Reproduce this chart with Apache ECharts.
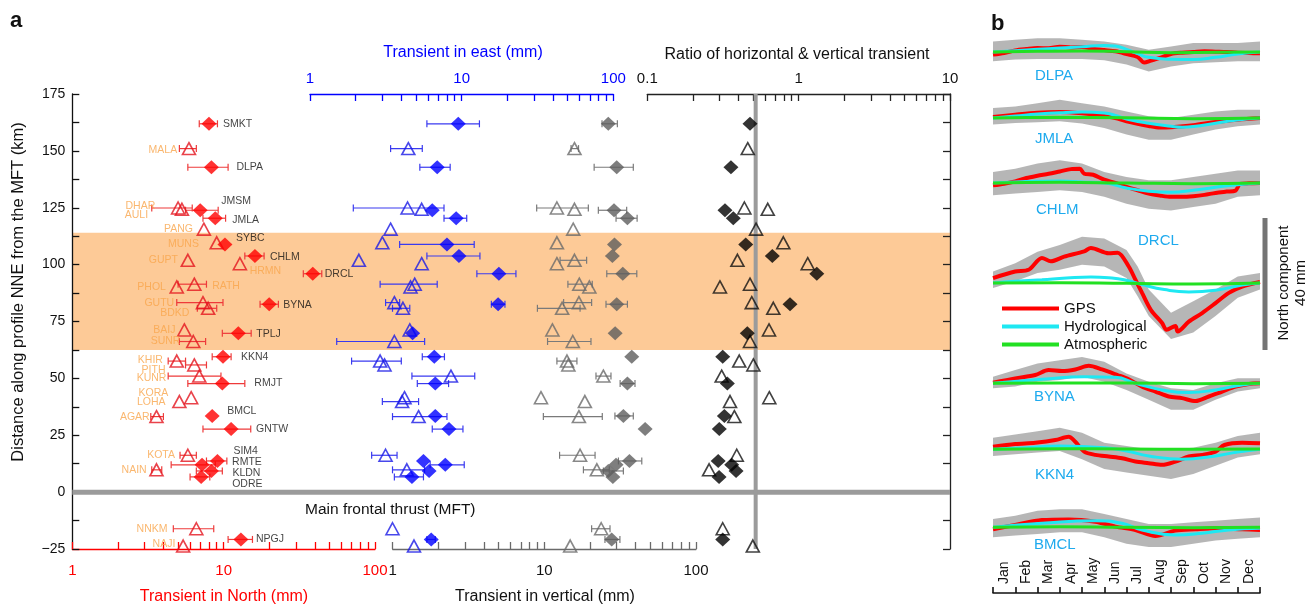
<!DOCTYPE html>
<html><head><meta charset="utf-8">
<script src="https://cdn.jsdelivr.net/npm/echarts@6/dist/echarts.min.js"></script>
<style>html,body{margin:0;padding:0;background:#fff}#c{width:1308px;height:609px}</style>
</head><body><div id="c"></div>
<script>
// ---------------- DATA : panel a ----------------
const stations = ['SMKT','MALA','DLPA','DHAR','AULI','JMSM','JMLA','PANG','MUNS','SYBC','CHLM','GUPT','HRMN','DRCL','RATH','PHOL','GUTU','BYNA','BDKD','BAIJ','TPLJ','SUNR','KKN4','KHIR','PITH','KUNR','RMJT','KORA','LOHA','BMCL','AGAR','GNTW','KOTA','SIM4','RMTE','NAIN','KLDN','ODRE','NNKM','NPGJ','NAJI'];
const markerKind = ['D','T','D','T','T','D','D','T','T','D','D','T','T','D','T','T','T','D','T','T','D','T','D','T','T','T','D','T','T','D','T','D','T','D','D','T','D','D','T','D','T'];
const distanceKm = [161.9,151.0,142.8,124.9,124.3,123.9,120.4,115.6,109.6,108.9,103.8,101.9,100.4,96.0,91.4,90.2,83.3,82.6,80.8,71.3,69.8,66.2,59.5,57.6,55.9,51.0,47.7,41.5,39.8,33.5,33.2,27.7,16.2,13.7,12.0,9.8,9.3,6.7,-16.1,-20.8,-23.7];
const northMm = [8.0,5.9,8.3,5.0,5.3,7.0,8.8,7.4,9.0,10.2,16.1,5.8,12.8,38.8,6.4,4.9,7.3,20.0,7.9,5.5,12.5,6.3,9.9,4.9,6.4,6.9,9.8,6.1,5.1,8.4,3.6,11.2,5.8,9.1,7.2,3.6,8.3,7.1,6.6,13.0,5.4];
const northLo = [6.9,5.1,5.8,3.35,null,5.6,7.3,null,null,null,13.8,null,null,33.6,5.0,null,4.9,17.4,6.7,null,9.8,5.1,8.4,4.3,5.6,4.3,5.8,null,null,null,3.3,7.3,5.15,7.7,4.5,3.35,6.6,6.0,4.65,10.7,null];
const northHi = [9.1,6.6,10.7,6.2,null,9.2,10.3,null,null,null,18.5,null,null,44.5,7.7,null,9.9,23.0,9.0,null,15.2,7.6,11.2,5.6,7.7,9.6,13.8,null,null,null,4.0,15.1,6.6,10.5,8.8,3.9,9.8,8.1,8.6,15.5,null];
const eastMm = [9.5,4.45,6.9,4.4,5.45,6.4,9.2,3.4,3.0,8.0,9.6,2.1,5.45,17.6,4.9,4.6,3.6,17.4,4.1,4.55,4.75,3.6,6.6,2.9,3.1,8.5,6.7,4.2,4.05,6.7,5.2,8.25,3.15,5.6,7.8,4.35,6.1,4.7,3.5,6.3,4.85];
const eastLo = [5.9,3.4,5.3,1.93,null,null,7.65,null,null,3.9,5.9,null,null,12.6,2.9,null,3.15,15.7,3.5,null,null,1.5,5.5,1.88,null,4.7,5.1,null,3.0,null,3.5,6.4,2.55,null,6.2,3.5,null,3.6,null,5.9,null];
const eastHi = [13.1,5.5,8.4,7.65,null,null,10.8,null,null,12.1,13.2,null,null,22.8,6.9,null,3.9,19.3,4.55,null,null,5.7,7.7,4.0,null,12.2,8.2,null,5.2,null,8.0,10.2,3.75,null,10.4,5.7,null,5.6,null,6.7,null];
const vertMm = [26.4,15.8,30.0,12.1,15.8,28.8,35.3,15.5,12.1,29.0,28.1,15.8,12.1,32.9,17.0,19.8,16.9,30.0,13.1,11.3,29.3,15.4,37.7,14.1,14.4,24.5,35.3,9.5,18.5,33.2,16.9,46.2,17.2,36.4,29.7,22.2,26.4,28.3,23.7,27.8,14.8];
const vertLo = [24.0,15.0,21.3,8.9,null,22.7,29.7,null,null,null,null,12.7,null,25.8,14.3,null,13.4,25.5,9.0,null,null,10.5,null,12.1,null,21.9,31.6,null,null,29.2,9.85,null,12.6,30.8,null,18.1,24.5,null,20.5,25.1,null];
const vertHi = [30.3,16.8,38.6,19.5,null,34.9,40.9,null,null,null,null,19.0,null,40.7,20.7,null,20.5,35.3,17.2,null,null,20.3,null,16.4,null,27.5,39.6,null,null,38.6,24.1,null,21.6,43.9,null,26.8,33.2,null,27.1,31.5,null];
const ratioHV = [0.477,0.461,0.357,0.438,0.625,0.326,0.370,0.523,0.792,0.447,0.670,0.394,1.148,1.318,0.477,0.302,0.490,0.877,0.680,0.637,0.458,0.477,0.315,0.405,0.502,0.310,0.338,0.640,0.352,0.323,0.376,0.299,0.390,0.294,0.361,0.256,0.386,0.298,0.315,0.315,0.498];
const bandKm = [62.5, 114];      // shaded zone
const mftKm = 0;                 // Main frontal thrust
const ratioRef = 0.52;           // reference ratio line
const kmTickLabels = [-25,0,25,50,75,100,125,150,175];

// ---------------- DATA : panel b (mm, time in months) ----------------
const months = ['Jan','Feb','Mar','Apr','May','Jun','Jul','Aug','Sep','Oct','Nov','Dec'];
const seriesNames = ['GPS','Hydrological','Atmospheric'];
const bStations = ['DLPA','JMLA','CHLM','DRCL','BYNA','KKN4','BMCL'];
const gpsDLPA = [[0,-0.8],[0.5,-0.3],[1,0.5],[1.5,0.9],[2,1.2],[2.5,1.1],[3,1.6],[3.5,1.4],[4,1.5],[4.5,1.0],[5,0.6],[5.5,0.2],[6,-0.6],[6.5,-1.5],[6.8,-3.2],[7.1,-2.6],[7.5,-1.8],[8,-0.6],[8.5,-0.2],[9,0.0],[9.5,0.2],[10,0.1],[10.5,0.0],[11,-0.2],[11.5,-0.3],[12,-0.4]];
const hydDLPA = [[0,0],[1,0.4],[2,0.8],[3,1.2],[4,1.6],[5,2.0],[5.5,1.8],[6,0.8],[6.5,-0.5],[7,-1.6],[8,-2.2],[9,-2.3],[10,-1.6],[11,-0.6],[12,0]];
const atmDLPA = [[0,0],[2,0.2],[4,0.3],[6,0.1],[8,-0.2],[10,-0.1],[12,0]];
const dotsDLPA = [[0,-2.8,3.2],[1,-2.3,3.7],[2,-2.1,4.2],[3,-2.1,4.2],[4,-2.1,3.7],[5,-2.5,3.2],[6,-3.8,2.2],[7,-5.9,0.7],[8,-4.4,1.7],[9,-3.4,2.7],[10,-3.1,2.7],[11,-2.8,2.7],[12,-2.8,3.2]];
const gpsJMLA = [[0,0.3],[1,1.0],[2,1.6],[3,1.8],[4,1.4],[5,0.6],[5.5,0],[6,-1.0],[7,-2.4],[7.5,-2.9],[8,-2.8],[9,-2.2],[10,-1.2],[11,-0.5],[12,0]];
const hydJMLA = [[0,0],[1,0.6],[2,1.2],[3,1.6],[4,1.8],[5,1.5],[5.5,0.8],[6,-0.3],[7,-1.6],[8,-2.5],[8.5,-2.8],[9,-2.6],[10,-1.6],[11,-0.6],[12,0]];
const atmJMLA = [[0,0],[3,0.2],[6,0.1],[9,-0.2],[12,0]];
const dotsJMLA = [[0,-2,3],[1,-1.5,3.5],[2,-1.3,4.5],[3,-1,5.5],[4,-1.7,4.5],[5,-3,3.5],[6,-5,2],[7,-6.6,0.5],[8,-6.6,0],[9,-5,1],[10,-3.5,2],[11,-2.5,2.5],[12,-2,2.5]];
const gpsCHLM = [[0,-0.7],[0.5,-0.2],[1,0.5],[1.5,1.5],[2,2.2],[2.5,2.8],[3,3.5],[3.5,4.2],[3.9,4.3],[4.1,2.8],[4.5,2.5],[5,1.0],[5.5,0],[6,-1.2],[6.5,-2.2],[7,-3.2],[7.5,-3.8],[8,-4.2],[8.5,-4.2],[9,-4.0],[9.5,-3.6],[10,-3.0],[10.5,-2.6],[10.9,-2.3],[11.1,-0.3],[11.5,-0.1],[12,0]];
const hydCHLM = [[0,0],[1,0.3],[2,0.5],[3,0.6],[4,0.3],[5,0],[6,-1.5],[7,-2.5],[8,-2.8],[9,-2.2],[10,-1.3],[11,-0.5],[12,0]];
const atmCHLM = [[0,0],[3,0.2],[6,0],[9,-0.2],[12,0]];
const dotsCHLM = [[0,-3.7,3.3],[1,-3.2,4.3],[2,-2.7,5.9],[3,-2.2,6.9],[4,-2.7,5.9],[5,-4.2,3.3],[6,-6.3,1.8],[7,-7.8,0.8],[8,-8.3,0.8],[9,-7.3,1.8],[10,-6.3,2.8],[11,-4.2,3.8],[12,-3.7,3.8]];
const gpsDRCL = [[0,1.5],[1,3.5],[1.6,4.0],[2.2,7.6],[2.6,6.6],[3.2,8.0],[4.1,9.6],[4.4,10.6],[5.2,9.0],[5.6,9.2],[6.1,5.0],[6.4,1.0],[6.7,-3.0],[7.1,-8.2],[7.6,-12.1],[7.8,-14.2],[8.2,-13.0],[8.3,-14.7],[8.8,-11.7],[9.4,-9.1],[10,-6.1],[10.6,-3.0],[11.2,-1.1],[12,0.3]];
const hydDRCL = [[0,0],[1,0.5],[2.2,1.0],[3.3,1.5],[4.4,1.8],[5.2,1.6],[5.9,1.0],[6.7,-0.5],[7.7,-2.0],[8.8,-2.7],[10,-2.2],[11.2,-0.6],[12,0]];
const atmDRCL = [[0,0],[3,0.1],[6,-0.1],[9,-0.3],[12,0]];
const dotsDRCL = [[0,-1.5,3.5],[1,0.5,6],[2,3,9.5],[3,4,11.5],[4,5.5,14],[5,5,13.5],[6,1.5,10],[6.5,-4,5],[7,-10,-2],[8,-17,-9],[9,-15,-5.5],[10,-10,-2],[11,-4.5,2],[12,-2,3]];
const gpsBYNA = [[0,0.2],[1,1.5],[1.9,2.5],[2.5,4.0],[3.1,3.7],[3.7,4.2],[4.3,5.3],[4.9,4.2],[5.6,2.5],[6.1,1.2],[6.7,-1.0],[7.3,-2.5],[7.9,-4.0],[8.5,-4.5],[9.1,-5.4],[9.7,-4.0],[10.3,-2.5],[10.9,-1.0],[11.5,-0.2],[12,0]];
const hydBYNA = [[0,0],[2.2,1.2],[4.1,2.0],[5.5,1.8],[6.4,0],[7.6,-2.0],[8.8,-2.8],[10,-2.0],[11.2,-0.5],[12,0]];
const atmBYNA = [[0,0],[3,0.1],[6,0.1],[9,-0.1],[12,0]];
const dotsBYNA = [[0,-1.5,2],[1,-1,4],[2,0.5,6],[3,1,7],[4,2,8],[5,0.5,6.5],[6,-2,3],[7,-5,0.5],[8,-8,-1.5],[9,-8,-2],[10,-5,0],[11,-2.5,1.5],[12,-1.5,1.5]];
const gpsKKN4 = [[0,0.8],[1,1.6],[1.9,2.0],[2.8,2.8],[3.4,3.8],[3.7,2.3],[4.1,-0.7],[4.6,-1.7],[5.2,-2.2],[5.8,-2.7],[6.4,-3.7],[7,-4.2],[7.6,-4.7],[8.2,-3.7],[8.8,-2.2],[9.4,-1.7],[10,-0.7],[10.4,1.3],[11.2,2.0],[12,1.8]];
const hydKKN4 = [[0,0],[1.5,0.5],[3,1.0],[5,0.5],[6,-0.5],[7,-2.0],[8.5,-3.0],[10,-2.0],[11,-0.8],[12,0]];
const atmKKN4 = [[0,0],[3,0.2],[6,0.1],[9,0],[12,0.1]];
const dotsKKN4 = [[0,-2,3.5],[1,-1.5,4.5],[2,-1,5.5],[3,-0.5,6.5],[4,-3,5],[5,-6,2],[6,-7,1],[7,-8,0],[8,-9,0],[9,-7.5,0.5],[10,-5,2],[11,-2.5,4],[12,-1.5,5]];
const gpsBMCL = [[0,-0.6],[1,0.7],[2.2,2.2],[3.4,2.4],[4.6,1.7],[5.5,0.2],[6.4,-0.8],[7.3,-2.6],[8.2,-1.0],[9.1,-0.6],[10,-0.3],[11.2,-0.6],[12,-0.8]];
const hydBMCL = [[0,0],[2.2,1.2],[4.6,2.0],[5.8,1.2],[6.7,-0.8],[8.2,-2.3],[9.4,-1.8],[10.6,-0.8],[12,-0.3]];
const atmBMCL = [[0,0],[3,0.2],[6,0],[9,-0.1],[12,0]];
const dotsBMCL = [[0,-3,2.5],[1,-2.5,3.5],[2,-2,5],[3,-1.5,5.5],[4,-1.5,5.5],[5,-3,4],[6,-5,2.5],[7,-6,1],[8,-6,1],[9,-5,1.5],[10,-4,2],[11,-3.5,2.5],[12,-3,3]];
const scaleBarMm = [40];

// ---------------- STYLE / LAYOUT ----------------
const FONT = '"Liberation Sans", Arial, Helvetica, sans-serif';
const RED = '#ff0000', BLUE = '#0000ff', GRAY = '#5e5e5e', ORANGE = '#f9a54b', CYANTXT = '#1eaaee';
const PA_TOP = 94, PA_H = 455;
// label placement: side, distance from marker centre (px), vertical shift (px)
const labelPlace = {SMKT:['r',14,0],DLPA:['r',25,0],JMSM:['r',21,-9],JMLA:['r',17,2],SYBC:['r',11,-6],CHLM:['r',15,1],DRCL:['r',12,0],BYNA:['r',14,1],TPLJ:['r',18,1],KKN4:['r',18,0],RMJT:['r',32,0],BMCL:['r',15,-5],GNTW:['r',25,0],SIM4:['r',16,-10],RMTE:['r',30,-3],KLDN:['r',21,2],ODRE:['r',31,7],NPGJ:['r',15,0],
  MALA:['l',11,2],DHAR:['l',22,-2],AULI:['l',33,6],PANG:['l',10,0],MUNS:['l',17,1],GUPT:['l',9,0],HRMN:['r',9,7],PHOL:['l',10,0],RATH:['r',17,2],GUTU:['l',28,0],BDKD:['l',18,5],BAIJ:['l',8,0],SUNR:['l',12,0],KHIR:['l',13,-1],PITH:['l',28,5],KUNR:['l',32,2],KORA:['l',22,-5],LOHA:['l',13,1],AGAR:['l',6,1],KOTA:['l',12,0],NAIN:['l',9,0],NNKM:['l',28,0],NAJI:['l',7,-2]};
const bRowY = [52,118,183,283,383.3,449.3,527.3];
const bLabelPos = [[1035,76],[1035,139],[1036,210],[1138,241],[1034,397],[1035,475],[1034,545]];
const MM_PX = 3.3, B_RANGE = 18;

function logTicks(a, b){ const o=[]; for(let d=a; d<b*0.999; d*=10){ for(let k=1;k<10;k++) o.push(+(d*k).toPrecision(3)); } o.push(b); return o; }

const grids = [], xAxes = [], yAxes = [], series = [];
function addGrid(g){ grids.push(Object.assign({outerBoundsMode:'none', containLabel:false}, g)); return grids.length-1; }

// panel a grids
const gBg = addGrid({left:72.3, top:PA_TOP, width:877.7, height:PA_H});
const gN = addGrid({left:72.3, top:PA_TOP, width:302.7, height:PA_H});
const gE = addGrid({left:310, top:PA_TOP, width:303.3, height:PA_H});
const gV = addGrid({left:392.7, top:PA_TOP, width:303.3, height:PA_H});
const gR = addGrid({left:647.3, top:PA_TOP, width:302.7, height:PA_H});

function logAxis(gi, min, max, pos, lineColor, labelColor, labelVals){
  return {gridIndex:gi, type:'log', logBase:10, min, max, position:pos,
    axisLine:{show:true, onZero:false, lineStyle:{color:lineColor, width:1.3}},
    axisTick:{show:true, inside:true, length:7, lineStyle:{color:lineColor, width:1.3}, customValues:logTicks(min,max)},
    minorTick:{show:false}, splitLine:{show:false},
    axisLabel:{show:true, color:labelColor, fontFamily:FONT, fontSize:15, margin: pos==='top'?8:14, customValues:labelVals,
      formatter: v => String(+v.toPrecision(3))}};
}
xAxes.push({gridIndex:gBg, type:'value', min:0, max:1, show:false});
xAxes.push(logAxis(gN, 1, 100, 'bottom', RED, RED, [1,10,100]));
xAxes.push(logAxis(gE, 1, 100, 'top', BLUE, BLUE, [1,10,100]));
xAxes.push(logAxis(gV, 1, 100, 'bottom', '#6a6a6a', '#111', [1,10,100]));
xAxes.push(logAxis(gR, 0.1, 10, 'top', '#222', '#111', [0.1,1,10]));

const kmAxisBase = {type:'value', min:-25, max:175, interval:12.5, splitLine:{show:false}};
yAxes.push(Object.assign({gridIndex:gBg, show:false}, kmAxisBase));
yAxes.push(Object.assign({gridIndex:gN, position:'left',
  axisLine:{show:true, onZero:false, lineStyle:{color:'#111', width:1.3}},
  axisTick:{show:true, inside:true, length:7, lineStyle:{color:'#111', width:1.3}},
  axisLabel:{show:true, color:'#111', fontFamily:FONT, fontSize:14, margin:7,
    formatter: v => kmTickLabels.indexOf(v) >= 0 ? (v < 0 ? '\u2212' + (-v) : String(v)) : ''}}, kmAxisBase));
yAxes.push(Object.assign({gridIndex:gE, show:false}, kmAxisBase));
yAxes.push(Object.assign({gridIndex:gV, show:false}, kmAxisBase));
yAxes.push(Object.assign({gridIndex:gR, position:'right',
  axisLine:{show:true, onZero:false, lineStyle:{color:'#222', width:1.3}},
  axisTick:{show:true, inside:true, length:7, lineStyle:{color:'#222', width:1.3}},
  axisLabel:{show:false}}, kmAxisBase));

// background band + MFT line
series.push({type:'custom', xAxisIndex:gBg, yAxisIndex:gBg, z:0, silent:true,
  data:[[0, bandKm[0], bandKm[1]]], encode:{x:0, y:[1,2]},
  renderItem:(p, api) => { const cs = p.coordSys; const y0 = api.coord([0, api.value(1)])[1], y1 = api.coord([0, api.value(2)])[1];
    return {type:'rect', shape:{x:cs.x, y:y1, width:cs.width, height:y0-y1}, style:{fill:'#fdca97'}}; }});
series.push({type:'custom', xAxisIndex:gBg, yAxisIndex:gBg, z:1, silent:true,
  data:[[0, mftKm]], encode:{x:0, y:1},
  renderItem:(p, api) => { const cs = p.coordSys; const y = api.coord([0, api.value(1)])[1];
    return {type:'line', shape:{x1:cs.x, y1:y, x2:cs.x+cs.width, y2:y}, style:{stroke:'#9b9b9b', lineWidth:5}}; }});
series.push({type:'custom', xAxisIndex:gR, yAxisIndex:gR, z:1, silent:true,
  data:[[ratioRef, 0]], encode:{x:0, y:1},
  renderItem:(p, api) => { const cs = p.coordSys; const x = api.coord([api.value(0), 0])[0];
    return {type:'line', shape:{x1:x, y1:cs.y, x2:x, y2:cs.y+cs.height}, style:{stroke:'#9b9b9b', lineWidth:4}}; }});

function errSeries(gi, lo, hi, color){
  const rows = [];
  stations.forEach((s,i) => { if (lo[i] != null) rows.push([lo[i], hi[i], distanceKm[i]]); });
  series.push({type:'custom', xAxisIndex:gi, yAxisIndex:gi, z:2, silent:true, data:rows, encode:{x:[0,1], y:2},
    renderItem:(p, api) => {
      const a = api.coord([api.value(0), api.value(2)]), b = api.coord([api.value(1), api.value(2)]);
      const h = 3.5, st = {stroke:color, lineWidth:1.2};
      return {type:'group', children:[
        {type:'line', shape:{x1:a[0], y1:a[1], x2:b[0], y2:b[1]}, style:st},
        {type:'line', shape:{x1:a[0], y1:a[1]-h, x2:a[0], y2:a[1]+h}, style:st},
        {type:'line', shape:{x1:b[0], y1:b[1]-h, x2:b[0], y2:b[1]+h}, style:st}]};
    }});
}
errSeries(gN, northLo, northHi, '#ee3a3a');
errSeries(gE, eastLo, eastHi, '#3a3af0');
errSeries(gV, vertLo, vertHi, '#7a7a7a');

function labelFor(name, kind){
  const lp = labelPlace[name]; if (!lp) return {show:false};
  const half = kind === 'D' ? 7.5 : 6.5;
  const d = lp[1] - half;
  return {show:true, position: lp[0]==='r' ? 'right' : 'left', distance: Math.max(0,d),
    offset:[d < 0 ? (lp[0]==='r' ? d : -d) : 0, lp[2]], formatter:'{b}', fontFamily:FONT, fontSize:10.5,
    color: kind === 'D' ? '#111' : ORANGE};
}
function scatterSeries(gi, vals, kind, fill, border, withLabels){
  const items = [];
  stations.forEach((s,i) => {
    if (markerKind[i] !== kind || vals[i] == null) return;
    const it = {name:s, value:[vals[i], distanceKm[i]]};
    if (withLabels) it.label = labelFor(s, kind);
    items.push(it);
  });
  series.push({type:'scatter', xAxisIndex:gi, yAxisIndex:gi, z:3, silent:true,
    symbol: kind === 'D' ? 'diamond' : 'triangle', symbolSize: kind === 'D' ? [15,14] : [13,12],
    itemStyle: kind === 'D' ? {color:fill, borderWidth:0} : {color:'rgba(255,255,255,0)', borderColor:border, borderWidth:1.6},
    label:{show:false}, emphasis:{disabled:true}, data:items});
}
scatterSeries(gN, northMm, 'T', null, '#e3141e', true);
scatterSeries(gN, northMm, 'D', RED, null, true);
scatterSeries(gE, eastMm, 'T', null, '#1a1ae6', false);
scatterSeries(gE, eastMm, 'D', BLUE, null, false);
scatterSeries(gV, vertMm, 'T', null, '#6a6a6a', false);
scatterSeries(gV, vertMm, 'D', GRAY, null, false);
scatterSeries(gR, ratioHV, 'T', null, '#111', false);
scatterSeries(gR, ratioHV, 'D', '#000', null, false);

// ---------------- panel b ----------------
const bData = [
  [gpsDLPA, hydDLPA, atmDLPA, dotsDLPA],
  [gpsJMLA, hydJMLA, atmJMLA, dotsJMLA],
  [gpsCHLM, hydCHLM, atmCHLM, dotsCHLM],
  [gpsDRCL, hydDRCL, atmDRCL, dotsDRCL],
  [gpsBYNA, hydBYNA, atmBYNA, dotsBYNA],
  [gpsKKN4, hydKKN4, atmKKN4, dotsKKN4],
  [gpsBMCL, hydBMCL, atmBMCL, dotsBMCL]];
bStations.forEach((st, i) => {
  const h = 2*B_RANGE*MM_PX;
  const gi = addGrid({left:993, width:267, top:bRowY[i] - h/2, height:h});
  xAxes.push({gridIndex:gi, type:'value', min:0, max:12, show:false});
  yAxes.push({gridIndex:gi, type:'value', min:-B_RANGE, max:B_RANGE, show:false});
  const [gps, hyd, atm, dots] = bData[i];
  // spread of daily GPS solutions (envelope of the dot cloud)
  series.push({type:'custom', xAxisIndex:gi, yAxisIndex:gi, z:1, silent:true, data:dots, encode:{x:0, y:[1,2]},
    renderItem:(p, api) => {
      if (p.dataIndex !== 0) return null;
      const up = dots.map(r => api.coord([r[0], r[2]]));
      const dn = dots.slice().reverse().map(r => api.coord([r[0], r[1]]));
      return {type:'polygon', shape:{points:up.concat(dn)}, style:{fill:'#9a9a9a', opacity:0.72}};
    }});
  series.push({type:'line', name:seriesNames[0], xAxisIndex:gi, yAxisIndex:gi, z:3, silent:true, smooth:0.3, symbol:'none',
    lineStyle:{color:'#ff0000', width:4}, itemStyle:{color:'#ff0000'}, data:gps});
  series.push({type:'line', name:seriesNames[1], xAxisIndex:gi, yAxisIndex:gi, z:4, silent:true, smooth:true, symbol:'none',
    lineStyle:{color:'#1ee8f2', width:3}, itemStyle:{color:'#1ee8f2'}, data:hyd});
  series.push({type:'line', name:seriesNames[2], xAxisIndex:gi, yAxisIndex:gi, z:5, silent:true, smooth:true, symbol:'none',
    lineStyle:{color:'#22e022', width:3}, itemStyle:{color:'#22e022'}, data:atm});
});
// month axis
const gM = addGrid({left:993, width:267, top:480, height:113});
xAxes.push({gridIndex:gM, type:'category', data:months, boundaryGap:true, position:'bottom',
  axisLine:{show:true, lineStyle:{color:'#111', width:1.6}},
  axisTick:{show:true, inside:true, length:6, interval:0, lineStyle:{color:'#111', width:1.6}},
  axisLabel:{show:true, inside:true, rotate:90, interval:0, margin:9, color:'#111', fontFamily:FONT, fontSize:14}, splitLine:{show:false}});
yAxes.push({gridIndex:gM, type:'value', show:false, min:0, max:1});
series.push({type:'line', xAxisIndex:gM, yAxisIndex:gM, data:[], silent:true});
// scale bar
const gS = addGrid({left:1262, width:6, top:218, height:40*MM_PX});
xAxes.push({gridIndex:gS, type:'category', data:['scale'], show:false});
yAxes.push({gridIndex:gS, type:'value', min:0, max:40, show:false});
series.push({type:'bar', xAxisIndex:gS, yAxisIndex:gS, data:scaleBarMm, barWidth:5, itemStyle:{color:'#747474'}, silent:true});

// ---------------- texts ----------------
function txt(x, y, text, o){ o = o || {};
  return {type:'text', x, y, rotation:o.rot||0, silent:true, z:10,
    style:{text, fill:o.color||'#111', font:(o.weight||'normal')+' '+(o.size||16)+'px '+FONT, align:o.align||'center', verticalAlign:'middle'}}; }
const graphics = [
  txt(10, 21, 'a', {size:22, weight:'bold', align:'left'}),
  txt(991, 24, 'b', {size:22, weight:'bold', align:'left'}),
  txt(18, 292, 'Distance along profile NNE from the MFT (km)', {rot:Math.PI/2, size:16.5}),
  txt(224, 597, 'Transient in North (mm)', {color:RED}),
  txt(545, 597, 'Transient in vertical (mm)'),
  txt(463, 53, 'Transient in east (mm)', {color:BLUE}),
  txt(797, 55, 'Ratio of horizontal & vertical transient'),
  txt(305, 510, 'Main frontal thrust (MFT)', {align:'left', size:15.5}),
  txt(1284, 283, 'North component', {rot:Math.PI/2, size:15}),
  txt(1301, 283, '40 mm', {rot:Math.PI/2, size:15})
];
bStations.forEach((s,i) => graphics.push(txt(bLabelPos[i][0], bLabelPos[i][1], s, {color:CYANTXT, align:'left', size:15})));

const chart = echarts.init(document.getElementById('c'));
chart.setOption({
  animation:false, backgroundColor:'#fff',
  textStyle:{fontFamily:FONT},
  grid:grids, xAxis:xAxes, yAxis:yAxes, series,
  legend:{data:seriesNames, orient:'vertical', left:997, top:296, icon:'rect', itemWidth:57, itemHeight:4, itemGap:3,
    selectedMode:false, textStyle:{fontFamily:FONT, fontSize:15, color:'#111'}},
  graphic:graphics
});
</script></body></html>
